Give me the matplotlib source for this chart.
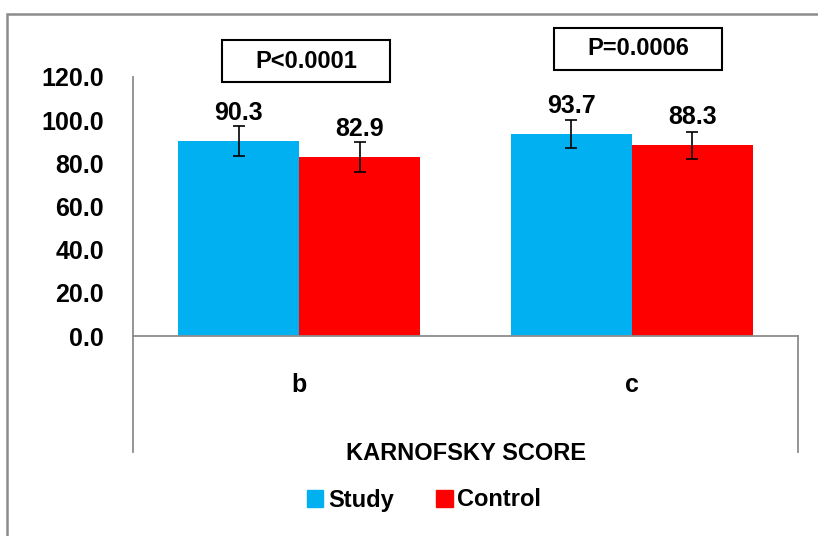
import numpy as np
import matplotlib
matplotlib.use("Agg")
import matplotlib.pyplot as plt
from matplotlib.patches import Patch, Rectangle
from matplotlib.lines import Line2D

plt.rcParams['font.family'] = ['Liberation Sans', 'DejaVu Sans']
plt.rcParams['font.weight'] = 'bold'

# data
categories = ['b', 'c']
study = [90.3, 93.7]
control = [82.9, 88.3]
study_err = [7.1, 6.5]
control_err = [6.8, 6.3]
p_values = ['P<0.0001', 'P=0.0006']
series_names = ['Study', 'Control']
axis_title = 'KARNOFSKY SCORE'
yticks = [0, 20, 40, 60, 80, 100, 120]

blue = '#00B0F0'
red = '#FF0000'
grey = '#8C8C8C'

fig = plt.figure(figsize=(8.18, 5.36), dpi=100)
ax = fig.add_axes([133/818, 200/536, 665/818, 259/536])

x = np.arange(len(categories))
w = 0.364
ax.bar(x - w/2, study, w, color=blue, zorder=2)
ax.bar(x + w/2, control, w, color=red, zorder=2)
ax.errorbar(x - w/2, study, yerr=study_err, fmt='none', ecolor='black',
            elinewidth=1.2, capsize=4.5, capthick=1.2, zorder=3)
ax.errorbar(x + w/2, control, yerr=control_err, fmt='none', ecolor='black',
            elinewidth=1.2, capsize=4.5, capthick=1.2, zorder=3)

# value labels above bars
for xi, v in zip(x - w/2, study):
    ax.text(xi, v + 13, f'{v:.1f}', ha='center', va='center', fontsize=18, fontweight='bold')
for xi, v in zip(x + w/2, control):
    ax.text(xi, v + 13, f'{v:.1f}', ha='center', va='center', fontsize=18, fontweight='bold')

# P-value boxes
box_y = [127.4, 133.0]
for xi, p, yc in zip(x, p_values, box_y):
    bw, bh = 0.505, 19.5
    ax.add_patch(Rectangle((xi + 0.02 - bw/2, yc - bh/2), bw, bh, fill=False,
                           edgecolor='black', lw=1.5, clip_on=False, zorder=4))
    ax.text(xi + 0.02, yc, p, ha='center', va='center', fontsize=17, fontweight='bold')

ax.set_xlim(-0.5, len(categories) - 0.5)
ax.set_ylim(0, 120)
ax.set_yticks(yticks)
ax.set_yticklabels([f'{t:.1f}' for t in yticks], fontsize=18, fontweight='bold')
ax.tick_params(axis='y', length=0, pad=21)
ax.set_xticks([])

for s in ['top', 'right']:
    ax.spines[s].set_visible(False)
for s in ['left', 'bottom']:
    ax.spines[s].set_color(grey)
    ax.spines[s].set_linewidth(1.3)

# category axis: outer separators, labels and title
for xs in [-0.5, 1.5]:
    ax.add_line(Line2D([xs, xs], [0, -0.448], transform=ax.get_xaxis_transform(),
                       color=grey, lw=1.3, clip_on=False))
for xi, c in zip(x, categories):
    ax.text(xi, -0.189, c, transform=ax.get_xaxis_transform(), ha='center', va='center',
            fontsize=18, fontweight='bold')
ax.text(0.5, -0.455, axis_title, transform=ax.transAxes, ha='center', va='center',
        fontsize=17, fontweight='bold')

# outer chart frame
fig.add_artist(Rectangle((7/818, -0.1), 1.2, 1.1 - 14/536, fill=False,
                         edgecolor=grey, lw=1.8, transform=fig.transFigure))

handles = [Patch(color=blue), Patch(color=red)]
fig.legend(handles, series_names, loc='center', bbox_to_anchor=(424/818, 36/536),
           ncol=2, frameon=False, prop={'size': 17, 'weight': 'bold'},
           handlelength=0.7, handleheight=0.7, handletextpad=0.2, columnspacing=1.8)

fig.savefig('out.png', dpi=100)
